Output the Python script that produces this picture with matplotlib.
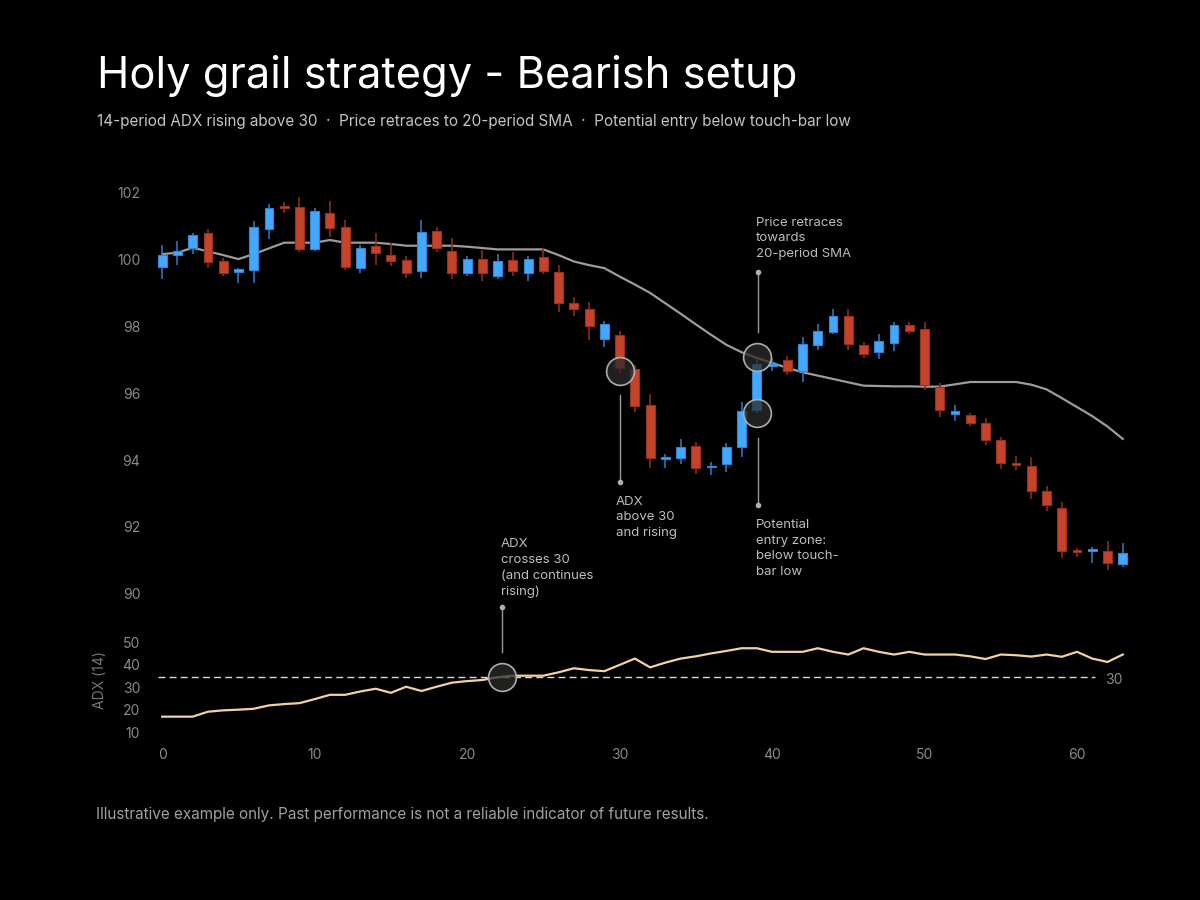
import numpy as np
import matplotlib
matplotlib.use("Agg")
import matplotlib.pyplot as plt
import matplotlib.transforms as mtransforms

plt.rcParams['font.family'] = ['Inter', 'DejaVu Sans']

# --- data ---
bars = np.arange(64)
opens = [99.77, 100.11, 100.32, 100.78, 99.94, 99.62, 99.67, 100.90, 101.58, 101.56,
         100.31, 101.39, 100.95, 99.74, 100.40, 100.13, 99.98, 99.65, 100.85, 100.24,
         99.57, 100.00, 99.50, 99.96, 99.58, 100.05, 99.61, 98.68, 98.51, 97.62,
         97.72, 96.71, 95.64, 94.04, 94.05, 94.42, 93.78, 93.88, 94.40, 95.50,
         96.80, 96.98, 96.66, 97.42, 97.83, 98.31, 97.42, 97.22, 97.49, 98.04,
         97.91, 96.17, 95.37, 95.34, 95.10, 94.59, 93.90, 93.82, 93.07, 92.56,
         91.30, 91.29, 91.28, 90.89]
highs = [100.42, 100.54, 100.79, 100.89, 100.02, 99.73, 101.13, 101.66, 101.71, 101.86,
         101.54, 101.73, 101.16, 100.41, 100.79, 100.47, 100.09, 101.16, 100.96, 100.64,
         100.09, 100.27, 100.15, 100.22, 100.09, 100.32, 99.82, 98.87, 98.72, 98.14,
         97.86, 96.84, 95.96, 94.18, 94.64, 94.53, 93.95, 94.52, 95.74, 97.05,
         97.04, 97.10, 97.68, 98.06, 98.51, 98.51, 97.53, 97.76, 98.11, 98.13,
         98.11, 96.31, 95.64, 95.41, 95.25, 94.70, 94.12, 94.10, 93.22, 92.76,
         91.36, 91.41, 91.58, 91.51]
lows = [99.41, 99.81, 100.16, 99.74, 99.49, 99.29, 99.29, 100.60, 101.39, 100.21,
        100.23, 100.65, 99.67, 99.59, 99.83, 99.79, 99.43, 99.44, 100.21, 99.41,
        99.49, 99.35, 99.41, 99.49, 99.34, 99.55, 98.43, 98.31, 97.57, 97.38,
        96.60, 95.44, 93.75, 93.75, 93.88, 93.58, 93.55, 93.65, 94.10, 95.41,
        96.67, 96.54, 96.34, 97.28, 97.75, 97.30, 97.04, 97.01, 97.26, 97.77,
        96.09, 95.29, 95.16, 95.01, 94.45, 93.72, 93.70, 92.84, 92.49, 91.07,
        91.11, 90.91, 90.72, 90.79]
closes = [100.13, 100.23, 100.73, 99.92, 99.57, 99.69, 100.95, 101.53, 101.52, 100.29,
          101.43, 100.93, 99.77, 100.33, 100.17, 99.95, 99.57, 100.82, 100.34, 99.57,
          100.00, 99.59, 99.94, 99.65, 100.00, 99.65, 98.69, 98.52, 97.99, 98.06,
          96.74, 95.61, 94.05, 94.10, 94.38, 93.75, 93.83, 94.39, 95.47, 96.88,
          96.87, 96.67, 97.46, 97.85, 98.30, 97.45, 97.18, 97.55, 98.03, 97.85,
          96.24, 95.48, 95.45, 95.12, 94.60, 93.90, 93.85, 93.08, 92.65, 91.29,
          91.24, 91.35, 90.91, 91.21]
sma20 = [100.15, 100.19, 100.34, 100.23, 100.12, 100.00, 100.15, 100.32, 100.49, 100.49,
         100.49, 100.57, 100.49, 100.49, 100.49, 100.45, 100.40, 100.40, 100.40, 100.40,
         100.37, 100.33, 100.29, 100.29, 100.29, 100.29, 100.12, 99.93, 99.82, 99.73,
         99.48, 99.24, 98.99, 98.68, 98.37, 98.05, 97.74, 97.44, 97.22, 97.05,
         96.90, 96.75, 96.62, 96.52, 96.42, 96.32, 96.22, 96.21, 96.20, 96.20,
         96.19, 96.19, 96.26, 96.33, 96.33, 96.33, 96.33, 96.25, 96.11, 95.85,
         95.58, 95.31, 95.00, 94.63]
adx14 = [12.4, 12.4, 12.4, 14.6, 15.2, 15.5, 15.9, 17.4, 18.0, 18.4,
         20.2, 22.1, 22.1, 23.6, 24.8, 23.0, 25.7, 23.8, 25.7, 27.5,
         28.2, 28.7, 29.9, 30.6, 30.6, 30.6, 32.1, 33.9, 33.1, 32.6,
         35.4, 38.2, 34.3, 36.4, 38.2, 39.2, 40.5, 41.6, 42.8, 42.8,
         41.2, 41.2, 41.2, 42.8, 41.2, 40.0, 42.8, 41.2, 40.0, 41.2,
         40.0, 40.0, 40.0, 39.2, 38.0, 40.0, 39.7, 39.1, 40.0, 39.0,
         41.2, 38.2, 36.7, 40.0]
adx_level = 30
price_ticks = [90, 92, 94, 96, 98, 100, 102]
adx_ticks = [10, 20, 30, 40, 50]
x_ticks = [0, 10, 20, 30, 40, 50, 60]

BG = '#000000'
UP, UP_EDGE, UP_WICK = '#45A8FF', '#2F86D6', '#2C74B8'
DN, DN_EDGE, DN_WICK = '#C4432A', '#97311E', '#8A2C1B'
TICK = '#8a8a8a'
NOTE = '#bdbdbd'
LINE = '#9a9a9a'

fig = plt.figure(figsize=(12, 9), dpi=100, facecolor=BG)
ax = fig.add_axes([0.125, 0.3222, 0.8208, 0.4833])
ax_adx = fig.add_axes([0.125, 0.1722, 0.8208, 0.1278], sharex=ax)

for a in (ax, ax_adx):
    a.set_facecolor(BG)
    for s in a.spines.values():
        s.set_visible(False)
    a.tick_params(length=0, colors=TICK, labelsize=10)

# candles
o = np.array(opens)
c = np.array(closes)
up = c >= o
ax.vlines(bars, lows, highs, colors=[UP_WICK if u else DN_WICK for u in up],
          linewidth=1.2, zorder=2)
ax.bar(bars, np.maximum(np.abs(c - o), 0.05), bottom=np.minimum(o, c), width=0.58,
       color=[UP if u else DN for u in up], edgecolor=[UP_EDGE if u else DN_EDGE for u in up],
       linewidth=0.8, zorder=3)
ax.plot(bars, sma20, color='#9c9c9c', lw=1.6, zorder=1.5)

circ = dict(s=400, facecolors=[(0.17, 0.17, 0.17, 0.75)], edgecolors=[(0.68, 0.68, 0.68, 1)],
            linewidths=1.2, zorder=5)
ax.scatter([30, 39, 39], [96.66, 97.07, 95.41], **circ)

# annotations (leader line + dot + text)
def note(axis, x, y0, y1, tx=None, ty=None, text=None, clip=True):
    axis.plot([x, x], [y0, y1], color=LINE, lw=1, zorder=4, clip_on=clip)
    axis.plot([x], [y1], 'o', ms=3, color='#b0b0b0', zorder=4, clip_on=clip)
    if text:
        ax.text(tx, ty, text, color=NOTE, fontsize=9.5, ha='left', va='top', linespacing=1.4)

note(ax, 39.05, 97.82, 99.61, 38.95, 101.27, 'Price retraces\ntowards\n20-period SMA')
note(ax, 30.03, 95.94, 93.34, 29.77, 92.93, 'ADX\nabove 30\nand rising')
note(ax, 39.05, 94.66, 92.66, 38.95, 92.24, 'Potential\nentry zone:\nbelow touch-\nbar low')
note(ax_adx, 22.3, 41.1, 61.1, clip=False)
ax.text(22.2, 91.66, 'ADX\ncrosses 30\n(and continues\nrising)', color=NOTE, fontsize=9.5,
        ha='left', va='top', linespacing=1.4)

ax.set_xlim(-0.8, 63.8)
ax.set_ylim(89.52, 102.51)
ax.set_yticks(price_ticks)
ax.tick_params(axis='y', pad=7)
ax.tick_params(axis='x', labelbottom=False)

# ADX panel
ax_adx.plot(bars, adx14, color='#F2D2A2', lw=1.6, zorder=3)
ax_adx.plot([-0.3, 61.2], [adx_level, adx_level], color='#d8d8d8', lw=1, ls=(0, (5, 3)), zorder=2)
ax_adx.text(63.0, adx_level - 1.3, str(adx_level), color=TICK, fontsize=10, ha='right', va='center')
ax_adx.scatter([22.3], [adx_level], **circ)
ax_adx.set_ylim(-0.2, 50.9)
ax_adx.set_yticks(adx_ticks)
ax_adx.set_xticks(x_ticks)
ax_adx.tick_params(axis='y', pad=7)
ax_adx.tick_params(axis='x', pad=2)
shift = mtransforms.ScaledTranslation(0, -10 / 100, fig.dpi_scale_trans)
for lab in ax_adx.get_yticklabels():
    lab.set_transform(lab.get_transform() + shift)
ax_adx.set_ylabel('ADX (14)', color='#777777', fontsize=10)
ax_adx.yaxis.set_label_coords(-0.0437, 0.565)

fig.text(0.0808, 0.9022, 'Holy grail strategy - Bearish setup', color='white', fontsize=31.3, va='baseline')
fig.text(0.0808, 0.86, '14-period ADX rising above 30  \u00b7  Price retraces to 20-period SMA  \u00b7  '
         'Potential entry below touch-bar low', color='#c4c4c4', fontsize=11, va='baseline')
fig.text(0.08, 0.09, 'Illustrative example only. Past performance is not a reliable indicator of future results.',
         color='#a0a0a0', fontsize=11, va='baseline')

fig.savefig('out.png', dpi=100, facecolor=BG)
